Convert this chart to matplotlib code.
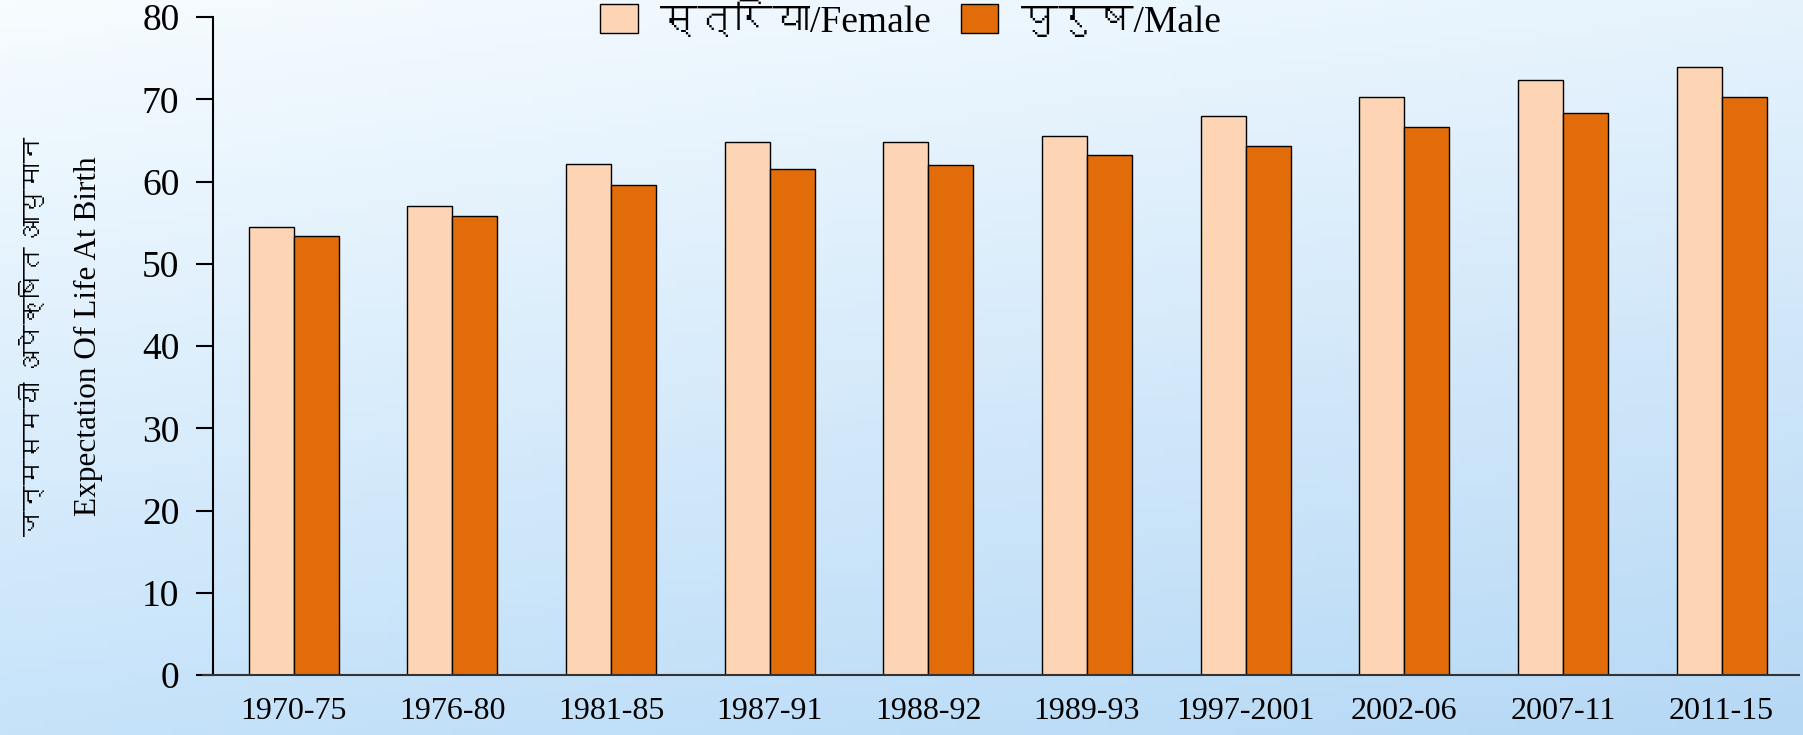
import numpy as np
import matplotlib
import matplotlib.pyplot as plt
from matplotlib import font_manager
from matplotlib.ft2font import FT2Font
from matplotlib.patches import Patch

periods = ['1970-75', '1976-80', '1981-85', '1987-91', '1988-92',
           '1989-93', '1997-2001', '2002-06', '2007-11', '2011-15']
female = [54.5, 57.1, 62.2, 64.8, 64.8, 65.5, 68.0, 70.3, 72.4, 74.0]
male = [53.4, 55.8, 59.6, 61.5, 62.0, 63.2, 64.3, 66.7, 68.4, 70.3]

female_label = 'स्त्रिया/Female'
male_label = 'पुरुष/Male'
ylabel_np = 'जन्मसमयी अपेक्षित आयुमान'
ylabel_en = 'Expectation Of Life At Birth'


def find_devanagari_font():
    # look for any installed font that carries Devanagari glyphs
    for f in font_manager.fontManager.ttflist:
        try:
            cmap = FT2Font(f.fname).get_charmap()
        except Exception:
            continue
        if 0x0915 in cmap and 0x094D in cmap:
            return f.name
    return None


deva = find_devanagari_font()
serif = 'Liberation Serif'
fam = [serif, deva, 'DejaVu Sans'] if deva else [serif, 'DejaVu Sans']
plt.rcParams['font.family'] = fam

fig = plt.figure(figsize=(18.03, 7.35), dpi=100)

# background gradient
bg = fig.add_axes([0, 0, 1, 1], zorder=-10)
tl = np.array([247, 252, 255]) / 255
tr = np.array([230, 243, 253]) / 255
bl = np.array([198, 227, 250]) / 255
br = np.array([182, 216, 245]) / 255
ny, nx = 100, 200
yy, xx = np.mgrid[0:1:ny * 1j, 0:1:nx * 1j]
img = (tl[None, None] * ((1 - xx) * (1 - yy))[..., None]
       + tr[None, None] * (xx * (1 - yy))[..., None]
       + bl[None, None] * ((1 - xx) * yy)[..., None]
       + br[None, None] * (xx * yy)[..., None])
bg.imshow(img, aspect='auto', extent=[0, 1, 0, 1], origin='upper')
bg.axis('off')

ax = fig.add_axes([0.118, 0.0816, 0.880, 0.895])
ax.patch.set_alpha(0)

x = np.arange(len(periods))
w = 0.283
ax.bar(x - w / 2, female, w, color='#FDD5B4', edgecolor='black', linewidth=1)
ax.bar(x + w / 2, male, w, color='#E36C0A', edgecolor='black', linewidth=1)

ax.set_xlim(-0.51, len(periods) - 0.51)
ax.set_ylim(0, 80)
ax.set_yticks(range(0, 81, 10))
ax.set_xticks(x)
ax.set_xticklabels(periods, fontsize=23)
ax.tick_params(axis='x', length=0, pad=16)
ax.tick_params(axis='y', labelsize=27, length=12, width=1.5, pad=12)
for s in ['top', 'right']:
    ax.spines[s].set_visible(False)
ax.spines['left'].set_linewidth(1.5)
ax.spines['bottom'].set_linewidth(1.5)
ax.spines['bottom'].set_color('#333333')
ax.spines['bottom'].set_bounds(-0.57, len(periods) - 0.51)

fig.text(0.019, 0.543, ylabel_np, rotation=90, fontsize=18.5,
         ha='center', va='center')
fig.text(0.049, 0.543, ylabel_en, rotation=90, fontsize=22.5,
         ha='center', va='center')

handles = [Patch(facecolor='#FDD5B4', edgecolor='black', linewidth=1),
           Patch(facecolor='#E36C0A', edgecolor='black', linewidth=1)]
fig.legend(handles, [female_label, male_label], loc='center',
           bbox_to_anchor=(0.505, 0.972), ncol=2, frameon=False,
           fontsize=27, handlelength=1.0, handleheight=0.8,
           handletextpad=0.6, columnspacing=0.8)

fig.savefig('out.png', dpi=100)
